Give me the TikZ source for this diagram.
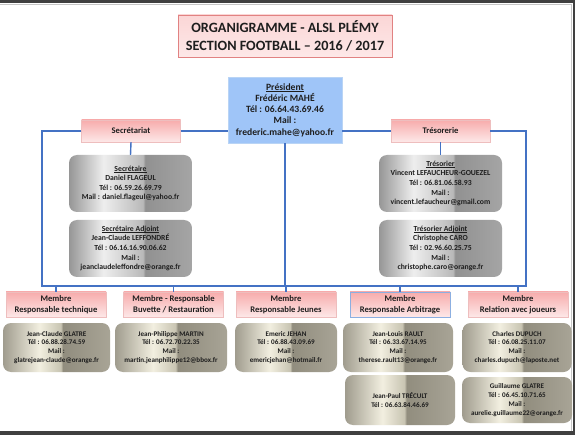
\documentclass[tikz,border=0pt]{standalone}
\usepackage{fontspec}
\setmainfont{Carlito}
\usetikzlibrary{calc}
\newcommand\myul[1]{\leavevmode\setbox0\hbox{#1}\rlap{\vrule height -0.9pt depth 1.5pt width \wd0}\box0}
\definecolor{lineblue}{RGB}{68,114,196}
\definecolor{presblue}{RGB}{159,197,248}
\definecolor{presedge}{RGB}{185,212,245}
\definecolor{txt}{RGB}{30,30,30}
\definecolor{pinkA}{RGB}{247,172,172}
\definecolor{pinkB}{RGB}{253,232,232}
\definecolor{pinkM}{RGB}{245,168,168}
\definecolor{pinkT}{RGB}{251,214,214}
\definecolor{pinkEdge}{RGB}{238,190,190}
\definecolor{titleEdge}{RGB}{225,130,130}
\definecolor{arbEdge}{RGB}{140,175,225}
\definecolor{frame}{RGB}{64,64,64}
\definecolor{silA}{RGB}{150,150,150}
\definecolor{silB}{RGB}{238,238,238}
\definecolor{silC}{RGB}{185,185,185}
\definecolor{silD}{RGB}{145,145,145}
\definecolor{silE}{RGB}{165,165,165}
\definecolor{tanA}{RGB}{160,156,142}
\definecolor{tanB}{RGB}{242,239,224}
\definecolor{tanC}{RGB}{200,196,178}
\definecolor{tanD}{RGB}{145,141,126}
\definecolor{tanE}{RGB}{168,164,150}
\pgfdeclarehorizontalshading{silvershade}{100bp}{color(0bp)=(silA); color(25bp)=(silA); color(39bp)=(silB); color(55bp)=(silC); color(56bp)=(silD); color(75bp)=(silE); color(100bp)=(silE)}
\pgfdeclarehorizontalshading{tanshade}{100bp}{color(0bp)=(tanA); color(25bp)=(tanA); color(42bp)=(tanB); color(52bp)=(tanC); color(53bp)=(tanD); color(75bp)=(tanE); color(100bp)=(tanE)}
\tikzset{
  conn/.style={draw=lineblue, line width=1.4pt},
  pinkbox/.style={shade, top color=pinkA, bottom color=pinkB, draw=pinkEdge, line width=0.4pt,
    minimum width=100pt, minimum height=25pt, inner sep=0pt, align=center,
    font=\fontsize{8.6}{11}\selectfont\bfseries, text=txt},
  silvercard/.style={rounded corners=8pt, shade, shading=silvershade, draw=none,
    minimum width=123pt, minimum height=57pt, inner sep=0pt, align=center,
    font=\fontsize{7.7}{9.6}\selectfont\bfseries, text=txt},
  tancard/.style={rounded corners=8pt, shade, shading=tanshade, draw=none,
    minimum height=49pt, inner sep=0pt, align=center,
    font=\fontsize{7.1}{8.9}\selectfont\bfseries, text=txt}
}
\begin{document}
\begin{tikzpicture}[x=1pt,y=-1pt]
\useasboundingbox (0,0) rectangle (575,435);
\fill[white] (0,0) rectangle (575,435);
% frame
\fill[frame] (0,0) rectangle (575,3);
\fill[frame] (572.5,0) rectangle (575,435);
\fill[frame] (0,431) rectangle (575,435);
\draw[gray!45, line width=0.5pt] (0,4) -- (571.5,4) -- (571.5,430.5);

% title
\node[shade, top color=pinkT, middle color=pinkM, bottom color=pinkB, draw=titleEdge, line width=0.6pt,
  minimum width=214pt, minimum height=42pt, inner sep=0pt, align=center,
  font=\fontsize{14.2}{18}\selectfont\bfseries, text=txt] (title) at (285,36)
  {ORGANIGRAMME - ALSL PLÉMY\\SECTION FOOTBALL – 2016 / 2017};

% president
\node[fill=presblue, draw=presedge, line width=0.6pt, minimum width=114pt, minimum height=66pt,
  inner sep=0pt, align=center, font=\fontsize{9.6}{11.2}\selectfont\bfseries, text=txt] (pres) at (285,110)
  {\myul{Président}\\Frédéric MAHÉ\\Tél : 06.64.43.69.46\\Mail :\\frederic.mahe@yahoo.fr};

% department boxes
\node[pinkbox, minimum width=99pt, minimum height=22pt] (secr) at (131,131) {Secrétariat};
\node[pinkbox, minimum width=99pt, minimum height=22pt] (treso) at (440.5,131) {Trésorerie};

% silver cards
\node[silvercard] (sec1) at (130.5,183.5)
  {\myul{Secrétaire}\\Daniel FLAGEUL\\Tél : 06.59.26.69.79\\Mail : daniel.flageul@yahoo.fr};
\node[silvercard] (sec2) at (130.5,248.5)
  {\myul{Secrétaire Adjoint}\\Jean-Claude LEFFONDRÉ\\Tél : 06.16.16.90.06.62\\Mail :\\jeanclaudeleffondre@orange.fr};
\node[silvercard] (tre1) at (440.5,183.5)
  {\myul{Trésorier}\\Vincent LEFAUCHEUR-GOUEZEL\\Tél : 06.81.06.58.93\\Mail :\\vincent.lefaucheur@gmail.com};
\node[silvercard] (tre2) at (440.5,248.5)
  {\myul{Trésorier Adjoint}\\Christophe CARO\\Tél : 02.96.60.25.75\\Mail :\\christophe.caro@orange.fr};

% member titles
\node[pinkbox] (m1) at (56,304.5) {Membre\\Responsable technique};
\node[pinkbox] (m2) at (173.5,304.5) {Membre - Responsable\\Buvette / Restauration};
\node[pinkbox] (m3) at (286,304.5) {Membre\\Responsable Jeunes};
\node[pinkbox, draw=arbEdge, line width=0.7pt] (m4) at (400,304.5) {Membre\\Responsable Arbitrage};
\node[pinkbox] (m5) at (518,304.5) {Membre\\Relation avec joueurs};

% member cards
\node[tancard, minimum width=107pt] (c1) at (56.5,347.5)
  {Jean-Claude GLATRE\\Tél : 06.88.28.74.59\\Mail :\\glatrejean-claude@orange.fr};
\node[tancard, minimum width=112pt] (c2) at (171,347.5)
  {Jean-Philippe MARTIN\\Tél : 06.72.70.22.35\\Mail :\\martin.jeanphilippe12@bbox.fr};
\node[tancard, minimum width=102pt] (c3) at (286,347.5)
  {Emeric JEHAN\\Tél : 06.88.43.09.69\\Mail :\\emericjehan@hotmail.fr};
\node[tancard, minimum width=110pt] (c4) at (398,347.5)
  {Jean-Louis RAULT\\Tél : 06.33.67.14.95\\Mail :\\therese.rault13@orange.fr};
\node[tancard, minimum width=109pt] (c5) at (517,347.5)
  {Charles DUPUCH\\Tél : 06.08.25.11.07\\Mail :\\charles.dupuch@laposte.net};
\node[tancard, minimum width=110pt, minimum height=50pt] (c4b) at (400,400)
  {Jean-Paul TRÉCULT\\Tél : 06.63.84.46.69};
\node[tancard, minimum width=110pt, minimum height=46pt] (c5b) at (517,400)
  {Guillaume GLATRE\\Tél : 06.45.10.71.65\\Mail :\\aurelie.guillaume22@orange.fr};

% connectors
\coordinate (topL) at (42,131);
\coordinate (topR) at (526,131);
\coordinate (busL) at (42,286);
\coordinate (busR) at (526,286);
\draw[conn] (secr.west) -- (topL) -- (busL) -- (busR) -- (topR) -- (treso.east);
\draw[conn] (secr.east) -- (secr.east -| pres.west);
\draw[conn] (treso.west -| pres.east) -- (treso.west);
\draw[conn] (pres.south) -- (pres.south |- busL);
\draw[conn] (secr.south) -- (sec1.north);
\draw[conn] (treso.south) -- (tre1.north);
\foreach \m in {m1,m2,m3,m4,m5}{
  \draw[conn] (\m.north) -- (\m.north |- busL);
}
\end{tikzpicture}
\end{document}
